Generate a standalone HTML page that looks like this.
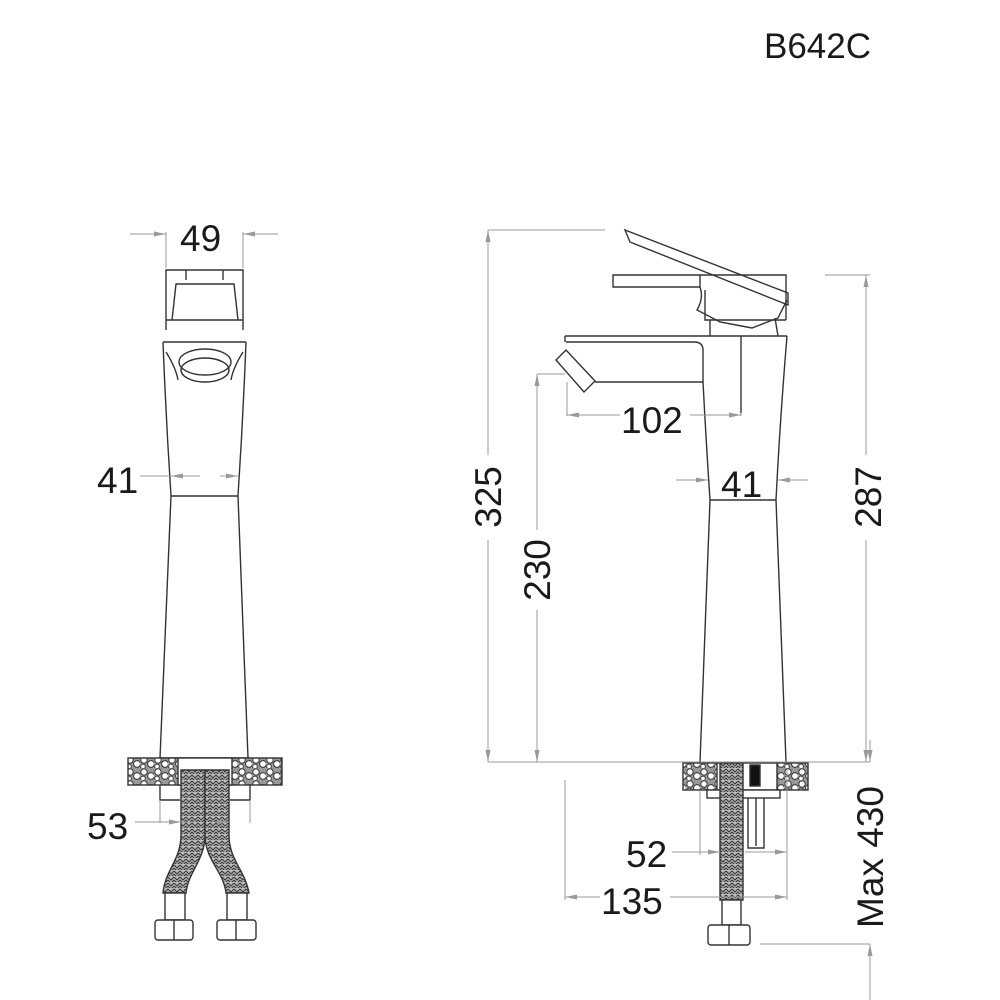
<!DOCTYPE html>
<html><head><meta charset="utf-8"><style>
html,body{margin:0;padding:0;background:#fff;}
svg{display:block;}
text{font-family:"Liberation Sans",Arial,sans-serif;fill:#1a1a1a;}
</style></head><body>
<svg width="1000" height="1000" viewBox="0 0 1000 1000" xmlns="http://www.w3.org/2000/svg">
<defs>
<pattern id="br" width="6" height="6" patternUnits="userSpaceOnUse">
<rect width="6" height="6" fill="#bbb"/>
<path d="M0 1 L3 4 L6 1 M0 4 L3 7 L6 4" stroke="#333" stroke-width="1.1" fill="none"/>
</pattern>
<pattern id="st" width="14" height="12" patternUnits="userSpaceOnUse">
<rect width="14" height="12" fill="#999"/>
<circle cx="4" cy="4" r="3.2" fill="#fff" stroke="#333" stroke-width="1"/>
<circle cx="11" cy="8" r="3.4" fill="#fff" stroke="#333" stroke-width="1"/>
<circle cx="3" cy="10.5" r="2.3" fill="#fff" stroke="#333" stroke-width="0.9"/>
</pattern>
<marker id="ar" markerWidth="12" markerHeight="6" refX="12" refY="3" orient="auto" markerUnits="userSpaceOnUse">
<path d="M0 0.5 L12 3 L0 5.5 Z" fill="#999"/>
</marker>
</defs>

<text x="764" y="58" font-size="35">B642C</text>

<!-- ===== LEFT VIEW ===== -->
<g stroke="#333" stroke-width="1.4" fill="none">
<path d="M166 330 L166 270 L243 270 L243 330"/>
<path d="M186 270 L186 280 M223 270 L223 280"/>
<path d="M172 320 L176 284 L234 284 L238 320"/>
<path d="M166 320 L243 320 M163 342 L246 342"/>
<path d="M163 342 Q166 420 171 496 L160 758 M246 342 Q243 420 238 496 L248 758"/>
<path d="M171 496 L238 496 M158 758 L250 758"/>
<path d="M166 352 Q176 368 178 380 M243 352 Q233 368 231 380"/>
<ellipse cx="205" cy="362" rx="26" ry="13"/>
<ellipse cx="205" cy="370" rx="24" ry="12"/>
<rect x="128" y="758" width="154" height="27" fill="url(#st)"/>
<rect x="178" y="758" width="54" height="27" fill="#fff"/>
<path d="M160 785 L160 800 L180 800 M250 785 L250 800 L230 800"/>
<path d="M181 770 L181 835 C181 860 165 870 163 893 L186 893 C188 872 205 860 205 835 L205 770 Z" fill="url(#br)"/>
<path d="M229 770 L229 835 C229 860 245 870 249 893 L226 893 C224 872 205 860 205 835 L205 770 Z" fill="url(#br)"/>
<rect x="165" y="893" width="20" height="27" fill="#fff"/>
<rect x="227" y="893" width="20" height="27" fill="#fff"/>
<rect x="155" y="920" width="38" height="20" rx="3" fill="#fff"/>
<rect x="217" y="920" width="39" height="20" rx="3" fill="#fff"/>
<path d="M174 920 L174 940 M236 920 L236 940"/>
</g>
<g stroke="#999" stroke-width="1" fill="none">
<path d="M166 268 L166 232 M243 268 L243 232"/>
<path d="M130 234 L166 234" marker-end="url(#ar)"/>
<path d="M278 234 L243 234" marker-end="url(#ar)"/>
<path d="M140 476 L200 476"/>
<path d="M186 476 L171 476" marker-end="url(#ar)"/>
<path d="M220 476 L238 476" marker-end="url(#ar)"/>
<path d="M160 800 L160 823 M250 800 L250 823"/>
<path d="M135 822 L195 822"/>
<path d="M178 822 L181 822" marker-end="url(#ar)"/>
<path d="M215 822 L229 822" marker-end="url(#ar)"/>
</g>
<text x="180" y="251" font-size="37">49</text>
<text x="97" y="493" font-size="37">41</text>
<text x="87" y="839" font-size="37">53</text>

<!-- ===== RIGHT VIEW ===== -->
<g stroke="#333" stroke-width="1.4" fill="none">
<path d="M625 230 L630 242 L788 305 L788 293 Z" fill="#fff"/>
<path d="M613 275 L613 287 L700 287 L700 275 Z" fill="#fff"/>
<path d="M700 275 L786 275 L786 320 M705 290 L705 320 L786 320"/>
<path d="M700 287 Q704 298 697 310 L720 322 L752 328 L778 318 L787 300"/>
<path d="M710 320 L710 336 M775 318 L778 336"/>
<path d="M565 336 L787 336 M565 336 L565 342"/>
<path d="M566 342 L694 342 Q703 342 703 350 L703 382 L595 382"/>
<path d="M556 360 L566 350 L595 381 L584 392 Z" fill="#fff"/>
<path d="M741 336 L741 413"/>
<path d="M703 382 Q706 440 710 500 L700 762 M787 336 Q780 420 776 500 L786 762"/>
<path d="M710 500 L776 500"/>
<rect x="683" y="763" width="125" height="27" fill="url(#st)"/>
<rect x="717" y="763" width="60" height="27" fill="#fff"/>
<rect x="750" y="765" width="10" height="21" fill="#111"/>
<rect x="707" y="790" width="73" height="8" fill="#fff"/>
<rect x="720" y="763" width="23" height="137" fill="url(#br)"/>
<path d="M748 798 L748 848 L764 848 L764 798 M756 798 L756 846"/>
<rect x="722" y="900" width="19" height="25" fill="#fff"/>
<rect x="708" y="925" width="42" height="20" rx="3" fill="#fff"/>
<path d="M729 925 L729 945"/>
</g>
<g stroke="#999" stroke-width="1" fill="none">
<path d="M488 230 L605 230 M537 374 L565 374 M825 275 L870 275 M488 762 L870 762"/>
<path d="M488 455 L488 230" marker-end="url(#ar)"/>
<path d="M488 540 L488 762" marker-end="url(#ar)"/>
<path d="M537 530 L537 374" marker-end="url(#ar)"/>
<path d="M537 610 L537 762" marker-end="url(#ar)"/>
<path d="M866 455 L866 275" marker-end="url(#ar)"/>
<path d="M866 540 L866 762" marker-end="url(#ar)"/>
<path d="M870 740 L870 762" marker-end="url(#ar)"/>
<path d="M760 944 L870 944"/>
<path d="M870 1000 L870 944" marker-end="url(#ar)"/>
<path d="M567 382 L567 416 M741 413 L741 416"/>
<path d="M620 415 L567 415" marker-end="url(#ar)"/>
<path d="M690 415 L741 415" marker-end="url(#ar)"/>
<path d="M676 480 L708 480" marker-end="url(#ar)"/>
<path d="M808 480 L778 480" marker-end="url(#ar)"/>
<path d="M700 790 L700 855 M787 770 L787 900 M565 780 L565 900"/>
<path d="M672 852 L720 852"/>
<path d="M690 852 L720 852" marker-end="url(#ar)"/>
<path d="M745 852 L787 852" marker-end="url(#ar)"/>
<path d="M600 897 L565 897" marker-end="url(#ar)"/>
<path d="M670 897 L787 897" marker-end="url(#ar)"/>
</g>
<text x="621" y="433" font-size="37">102</text>
<text x="721" y="497" font-size="37">41</text>
<text x="626" y="867" font-size="37">52</text>
<text x="601" y="914" font-size="37">135</text>
<text transform="translate(501,497) rotate(-90)" font-size="37" text-anchor="middle">325</text>
<text transform="translate(550,570) rotate(-90)" font-size="37" text-anchor="middle">230</text>
<text transform="translate(881,497) rotate(-90)" font-size="37" text-anchor="middle">287</text>
<text transform="translate(883,857) rotate(-90)" font-size="37" text-anchor="middle">Max 430</text>
</svg>
</body></html>
